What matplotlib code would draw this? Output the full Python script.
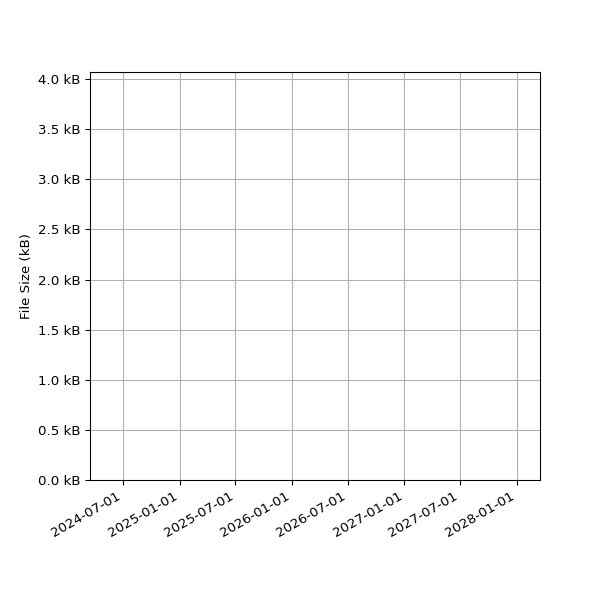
import datetime as dt
import matplotlib
matplotlib.use('Agg')
import matplotlib.pyplot as plt
import matplotlib.dates as mdates
from matplotlib.ticker import FuncFormatter, MultipleLocator

# No data points are visible in the chart
dates = []
sizes_kb = []

x_start = dt.datetime(2024, 3, 16)
x_end = dt.datetime(2028, 3, 16)
y_max = 4.07

fig, ax = plt.subplots(figsize=(6.25, 6.25), dpi=96)
ax.plot(dates, sizes_kb)
ax.set_xlim(x_start, x_end)
ax.set_ylim(0, y_max)

ax.xaxis.set_major_locator(mdates.MonthLocator(bymonth=[1, 7]))
ax.xaxis.set_major_formatter(mdates.DateFormatter('%Y-%m-%d'))
ax.yaxis.set_major_locator(MultipleLocator(0.5))
ax.yaxis.set_major_formatter(FuncFormatter(lambda v, _: f'{v:.1f} kB'))

ax.set_ylabel('File Size (kB)')
ax.grid(True)
fig.autofmt_xdate()
fig.subplots_adjust(left=0.15, right=0.9, top=0.88, bottom=0.2)
fig.savefig('out.png')
